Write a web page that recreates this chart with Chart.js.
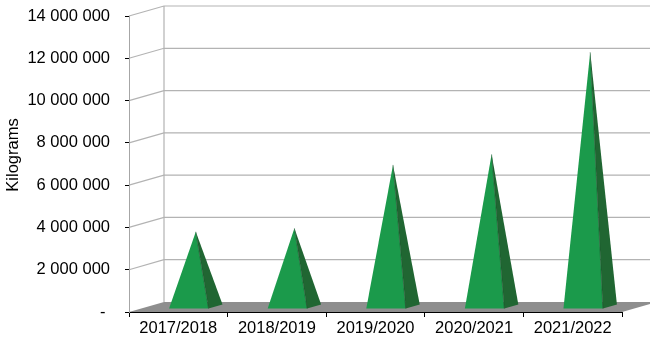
<!DOCTYPE html>
<html>
<head>
<meta charset="utf-8">
<style>
  html, body { margin:0; padding:0; background:#ffffff; }
  #wrap { width:650px; height:339px; position:relative; }
</style>
<script src="https://cdn.jsdelivr.net/npm/chart.js@4/dist/chart.umd.min.js"></script>
</head>
<body>
<div id="wrap"><canvas id="c" width="650" height="339"></canvas></div>
<script>
const categories = ['2017/2018', '2018/2019', '2019/2020', '2020/2021', '2021/2022'];
const kilograms = [3560000, 3720000, 6720000, 7220000, 12050000];
const yTickValues = [0, 2000000, 4000000, 6000000, 8000000, 10000000, 12000000, 14000000];
const yAxisTitle = 'Kilograms';

const FONT = '"Liberation Sans", Arial, sans-serif';
const DEPTH_X = 35, DEPTH_Y = -10;      // 3D floor depth projection
const FRONT_FRAC = 0.3, BACK_FRAC = 0.7; // pyramid position in depth

function fmt(v) {
  if (v === 0) return '- ';
  return String(v).replace(/\B(?=(\d{3})+(?!\d))/g, ' ');
}

const scene3d = {
  id: 'scene3d',
  beforeDraw(chart) {
    const ctx = chart.ctx;
    const ys = chart.scales.y, xs = chart.scales.x;
    const L = xs.left, R = xs.right;
    const y0 = ys.getPixelForValue(0);
    ctx.save();
    // floor
    ctx.fillStyle = '#8e8e8e';
    ctx.beginPath();
    ctx.moveTo(L, y0);
    ctx.lineTo(R, y0);
    ctx.lineTo(R + DEPTH_X, y0 + DEPTH_Y);
    ctx.lineTo(L + DEPTH_X, y0 + DEPTH_Y);
    ctx.closePath();
    ctx.fill();
    // gridlines on side wall and back wall
    ctx.strokeStyle = '#b3b3b3';
    ctx.lineWidth = 1.2;
    yTickValues.forEach(v => {
      if (v === 0) return;
      const py = ys.getPixelForValue(v);
      ctx.beginPath();
      ctx.moveTo(L, py);
      ctx.lineTo(L + DEPTH_X, py + DEPTH_Y);
      ctx.lineTo(R + DEPTH_X + 20, py + DEPTH_Y);
      ctx.stroke();
    });
    // back wall vertical edge
    const top = ys.getPixelForValue(ys.max);
    ctx.beginPath();
    ctx.moveTo(L + DEPTH_X, top + DEPTH_Y);
    ctx.lineTo(L + DEPTH_X, y0 + DEPTH_Y);
    ctx.stroke();
    ctx.restore();
  },
  afterDatasetsDraw(chart) {
    const ctx = chart.ctx;
    const meta = chart.getDatasetMeta(0);
    ctx.save();
    meta.data.forEach(el => {
      const w = el.width;
      const fx = FRONT_FRAC * DEPTH_X, fy = FRONT_FRAC * DEPTH_Y;
      const bx = BACK_FRAC * DEPTH_X, by = BACK_FRAC * DEPTH_Y;
      const mx = 0.5 * DEPTH_X, my = 0.5 * DEPTH_Y;
      const xl = el.x - w / 2, xr = el.x + w / 2;
      const base = el.base;
      const tip = [el.x + mx, el.y + my];
      // front face
      ctx.fillStyle = '#1b9a4b';
      ctx.beginPath();
      ctx.moveTo(xl + fx, base + fy);
      ctx.lineTo(xr + fx, base + fy);
      ctx.lineTo(tip[0], tip[1]);
      ctx.closePath();
      ctx.fill();
      // right side face
      ctx.fillStyle = '#206632';
      ctx.beginPath();
      ctx.moveTo(xr + fx, base + fy);
      ctx.lineTo(xr + bx, base + by);
      ctx.lineTo(tip[0], tip[1]);
      ctx.closePath();
      ctx.fill();
      // edge
      ctx.strokeStyle = 'rgba(20,70,35,0.6)';
      ctx.lineWidth = 0.8;
      ctx.beginPath();
      ctx.moveTo(xr + fx, base + fy);
      ctx.lineTo(tip[0], tip[1]);
      ctx.stroke();
    });
    ctx.restore();
  },
  afterDraw(chart) {
    const ctx = chart.ctx;
    const ys = chart.scales.y;
    ctx.save();
    ctx.translate(13, (ys.top + ys.bottom) / 2 - 9);
    ctx.rotate(-Math.PI / 2);
    ctx.fillStyle = '#000';
    ctx.font = '16.5px ' + FONT;
    ctx.textAlign = 'center';
    ctx.textBaseline = 'middle';
    ctx.fillText(yAxisTitle, 0, 0);
    ctx.restore();
  }
};

new Chart(document.getElementById('c'), {
  type: 'bar',
  data: {
    labels: categories,
    datasets: [{
      label: yAxisTitle,
      data: kilograms,
      backgroundColor: 'rgba(0,0,0,0)',
      borderWidth: 0,
      categoryPercentage: 1,
      barPercentage: 0.4
    }]
  },
  options: {
    responsive: false,
    animation: false,
    devicePixelRatio: 1,
    layout: { padding: { left: 0, right: 28, top: 16, bottom: 0 } },
    plugins: { legend: { display: false }, tooltip: { enabled: false } },
    scales: {
      x: {
        grid: { offset: true, drawOnChartArea: false, color: '#000', tickLength: 5, lineWidth: 1 },
        border: { color: '#000' },
        ticks: { color: '#000', font: { family: FONT, size: 16.5 }, padding: 2, maxRotation: 0 },
        afterFit(s) { s.height = 27; s.paddingLeft = 0; s.paddingRight = 0; }
      },
      y: {
        min: 0, max: 14000000,
        afterBuildTicks(s) { s.ticks = yTickValues.map(v => ({ value: v })); },
        grid: { drawOnChartArea: false, color: '#000', tickLength: 4 },
        border: { color: '#a6a6a6' },
        ticks: { color: '#000', font: { family: FONT, size: 16.5 }, padding: 15, callback: v => fmt(v) },
        afterFit(s) { s.width = 129; s.paddingTop = 0; s.paddingBottom = 0; }
      }
    }
  },
  plugins: [scene3d]
});
</script>
</body>
</html>
